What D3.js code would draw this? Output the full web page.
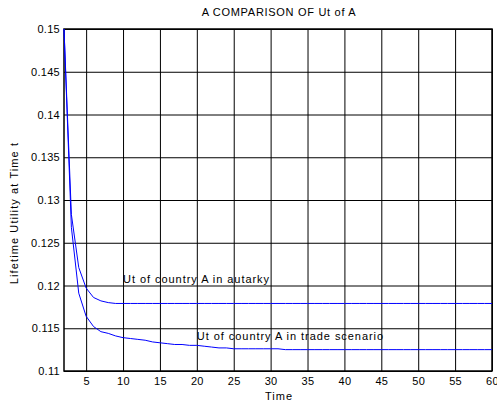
<!DOCTYPE html>
<html>
<head>
<meta charset="utf-8">
<script src="https://cdn.jsdelivr.net/npm/d3@7"></script>
<style>
  body { margin: 0; background: #fff; }
  text { font-family: "Liberation Sans", Arial, sans-serif; fill: #000; }
</style>
</head>
<body>
<script>
// chart data
const time = [];
for (let t = 2; t <= 60; t++) time.push(t);
const autarky = [
  0.1500, 0.1283, 0.1221, 0.1197, 0.1186, 0.1182, 0.1180, 0.1179, 0.1179, 0.1179,
  0.1179, 0.1179, 0.1179, 0.1179, 0.1179, 0.1179, 0.1179, 0.1179, 0.1179, 0.1179,
  0.1179, 0.1179, 0.1179, 0.1179, 0.1179, 0.1179, 0.1179, 0.1179, 0.1179, 0.1179,
  0.1179, 0.1179, 0.1179, 0.1179, 0.1179, 0.1179, 0.1179, 0.1179, 0.1179, 0.1179,
  0.1179, 0.1179, 0.1179, 0.1179, 0.1179, 0.1179, 0.1179, 0.1179, 0.1179, 0.1179,
  0.1179, 0.1179, 0.1179, 0.1179, 0.1179, 0.1179, 0.1179, 0.1179, 0.1179
];
const trade = [
  0.1500, 0.1268, 0.1191, 0.1164, 0.1152, 0.1146, 0.1144, 0.1141, 0.1139, 0.1138,
  0.1137, 0.1136, 0.1134, 0.1133, 0.1132, 0.1131, 0.1131, 0.1130, 0.1130, 0.1129,
  0.1128, 0.1127, 0.1127, 0.1126, 0.1126, 0.1126, 0.1126, 0.1126, 0.1126, 0.1126,
  0.1125, 0.1125, 0.1125, 0.1125, 0.1125, 0.1125, 0.1125, 0.1125, 0.1125, 0.1125,
  0.1125, 0.1125, 0.1125, 0.1125, 0.1125, 0.1125, 0.1125, 0.1125, 0.1125, 0.1125,
  0.1125, 0.1125, 0.1125, 0.1125, 0.1125, 0.1125, 0.1125, 0.1125, 0.1125
];
const xTicks = [5, 10, 15, 20, 25, 30, 35, 40, 45, 50, 55, 60];
const yTicks = [0.11, 0.115, 0.12, 0.125, 0.13, 0.135, 0.14, 0.145, 0.15];
const title = "A COMPARISON OF Ut of A";
const xLabel = "Time";
const yLabel = "Lifetime Utility at Time t";
const notes = [
  { text: "Ut of country A in autarky", t: 10, v: 0.1203 },
  { text: "Ut of country A in trade scenario", t: 20, v: 0.11363 }
];

const w = 497, h = 404;
const mLeft = 64, mRight = 492, mTop = 29, mBottom = 371;

let svg = d3.select("body").append("svg")
  .attr("width", w)
  .attr("height", h);

let xScale = d3.scaleLinear().domain([2, 60]).range([mLeft, mRight]);
let yScale = d3.scaleLinear().domain([0.11, 0.15]).range([mBottom, mTop]);

// grid via axes
svg.append("g")
  .attr("transform", `translate(0,${mBottom})`)
  .call(d3.axisBottom(xScale).tickValues(xTicks).tickSize(-(mBottom - mTop)).tickPadding(6)
    .tickFormat(d => d))
  .call(g => g.select(".domain").remove())
  .call(g => g.selectAll("line").attr("stroke", "#000").attr("stroke-width", 1))
  .call(g => g.selectAll("text").style("font-size", "11px").style("letter-spacing", "0.3px"));

svg.append("g")
  .attr("transform", `translate(${mLeft},0)`)
  .call(d3.axisLeft(yScale).tickValues(yTicks).tickSize(-(mRight - mLeft)).tickPadding(4)
    .tickFormat(d => +d.toFixed(3)))
  .call(g => g.select(".domain").remove())
  .call(g => g.selectAll("line").attr("stroke", "#000").attr("stroke-width", 1))
  .call(g => g.selectAll("text").style("font-size", "11px").style("letter-spacing", "0.3px"));

// frame
svg.append("rect")
  .attr("x", mLeft).attr("y", mTop)
  .attr("width", mRight - mLeft).attr("height", mBottom - mTop)
  .attr("fill", "none").attr("stroke", "#000").attr("stroke-width", 1.5);

// curves
const line = d3.line()
  .x((d, i) => xScale(time[i]))
  .y(d => yScale(d));

[autarky, trade].forEach(s => {
  svg.append("path")
    .datum(s)
    .attr("d", line)
    .attr("fill", "none")
    .attr("stroke", "#0000ff")
    .attr("stroke-width", 1);
});

// annotations
notes.forEach(n => {
  svg.append("text")
    .attr("x", xScale(n.t))
    .attr("y", yScale(n.v))
    .style("font-size", "11px")
    .style("letter-spacing", "0.95px")
    .text(n.text);
});

// titles
svg.append("text")
  .attr("x", 279).attr("y", 16)
  .attr("text-anchor", "middle")
  .style("font-size", "11px")
  .style("letter-spacing", "0.7px")
  .text(title);

svg.append("text")
  .attr("x", 279).attr("y", 400)
  .attr("text-anchor", "middle")
  .style("font-size", "11px")
  .style("letter-spacing", "1px")
  .text(xLabel);

svg.append("text")
  .attr("transform", "translate(18,213) rotate(-90)")
  .attr("text-anchor", "middle")
  .style("font-size", "11px")
  .style("letter-spacing", "1.1px")
  .text(yLabel);
</script>
</body>
</html>
